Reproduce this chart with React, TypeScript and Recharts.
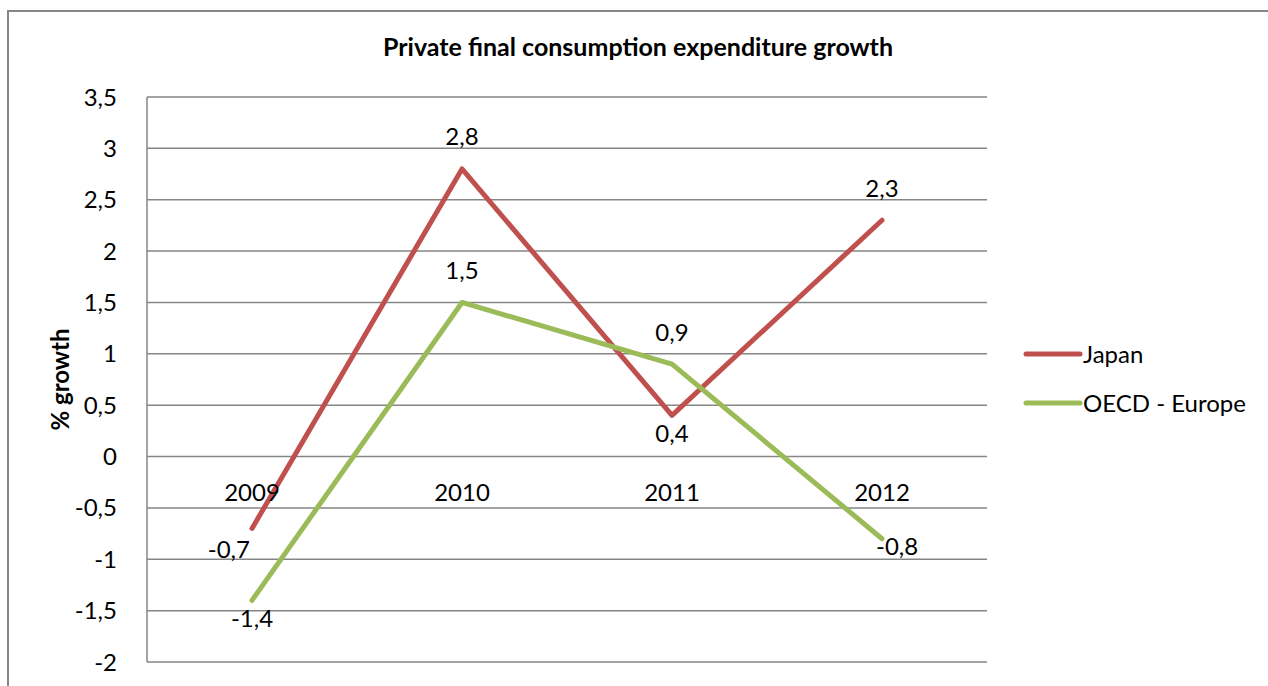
import React from "react";
import {
  LineChart,
  Line,
  XAxis,
  YAxis,
  CartesianGrid,
  Legend,
  LabelList,
} from "recharts";

const years = ["2009", "2010", "2011", "2012"];
const japan = [-0.7, 2.8, 0.4, 2.3];
const oecdEurope = [-1.4, 1.5, 0.9, -0.8];
const yTicks = [-2, -1.5, -1, -0.5, 0, 0.5, 1, 1.5, 2, 2.5, 3, 3.5];

const data = years.map((year, i) => ({
  year,
  japan: japan[i],
  oecd: oecdEurope[i],
}));

const FONT = "Lato, 'Open Sans', sans-serif";
const FS = 24;
const GRID = "#868686";
const RED = "#C0504D";
const GREEN = "#9BBB59";

// plot area in page coordinates
const PLOT_TOP = 97;
const PLOT_BOTTOM = 662;
const PLOT_W = 840;
const Y_MIN = -2;
const Y_MAX = 3.5;
const ZERO_Y =
  PLOT_TOP + ((PLOT_BOTTOM - PLOT_TOP) * (Y_MAX - 0)) / (Y_MAX - Y_MIN);
const HALF_BAND = PLOT_W / years.length / 2;

const fmt = (v: number) => String(v).replace(".", ",");

// where each data label sits relative to its point
const japanPlace = ["left", "above", "below", "above"];
const oecdPlace = ["below", "above", "above", "right"];

const makeLabel = (place: string[]) => (props: any) => {
  const { x, y, value, index } = props;
  const p = place[index];
  let tx = x;
  let ty = y;
  let anchor: "start" | "middle" | "end" = "middle";
  if (p === "above") ty = y - 33;
  if (p === "below") ty = y + 17;
  if (p === "left") {
    tx = x - 2;
    ty = y + 20;
    anchor = "end";
  }
  if (p === "right") {
    tx = x - 6;
    ty = y + 7;
    anchor = "start";
  }
  return (
    <text
      x={tx}
      y={ty}
      textAnchor={anchor}
      dominantBaseline="central"
      fontSize={FS}
      fontFamily={FONT}
      fill="#000"
    >
      {fmt(value)}
    </text>
  );
};

const YearTick = (props: any) => {
  const { x, payload } = props;
  return (
    <text
      x={x}
      y={ZERO_Y + 35}
      textAnchor="middle"
      dominantBaseline="central"
      fontSize={FS}
      fontFamily={FONT}
      fill="#000"
    >
      {payload.value}
    </text>
  );
};

const LegendBox = (props: any) => {
  const { payload } = props;
  return (
    <div style={{ fontFamily: FONT, fontSize: FS, color: "#000" }}>
      {payload.map((item: any) => (
        <div
          key={item.value}
          style={{ display: "flex", alignItems: "center", height: 49 }}
        >
          <svg width={60} height={10}>
            <line
              x1={3}
              y1={5}
              x2={57}
              y2={5}
              stroke={item.color}
              strokeWidth={5}
              strokeLinecap="round"
            />
          </svg>
          <span>{item.value}</span>
        </div>
      ))}
    </div>
  );
};

const App: React.FC = () => {
  return (
    <div
      style={{
        position: "absolute",
        left: 0,
        top: 0,
        width: 1268,
        height: 686,
        background: "#fff",
        overflow: "hidden",
      }}
    >
      <div
        style={{
          position: "absolute",
          left: 7,
          top: 10,
          width: 1300,
          height: 700,
          borderLeft: `2px solid ${GRID}`,
          borderTop: `2px solid ${GRID}`,
        }}
      />
      <div
        style={{
          position: "absolute",
          left: 0,
          top: 31,
          width: 1276,
          textAlign: "center",
          fontFamily: FONT,
          fontWeight: 700,
          fontSize: 25,
          color: "#000",
        }}
      >
        Private final consumption expenditure growth
      </div>
      <div style={{ position: "absolute", left: 0, top: 0 }}>
        <LineChart
          width={1268}
          height={686}
          data={data}
          margin={{ top: PLOT_TOP, right: 281, bottom: 0, left: 0 }}
        >
          <CartesianGrid vertical={false} stroke={GRID} strokeWidth={1.5} />
          <XAxis
            dataKey="year"
            axisLine={false}
            tickLine={false}
            height={686 - PLOT_BOTTOM}
            padding={{ left: HALF_BAND, right: HALF_BAND }}
            tick={<YearTick />}
            interval={0}
          />
          <YAxis
            width={147}
            domain={[Y_MIN, Y_MAX]}
            ticks={yTicks}
            interval={0}
            tickFormatter={fmt}
            axisLine={{ stroke: GRID, strokeWidth: 1.5 }}
            tickLine={false}
            tickMargin={24}
            tick={{ fontSize: FS, fontFamily: FONT, fill: "#000" }}
            label={{
              content: () => (
                <text
                  x={59}
                  y={(PLOT_TOP + PLOT_BOTTOM) / 2}
                  transform={`rotate(-90 59 ${(PLOT_TOP + PLOT_BOTTOM) / 2})`}
                  textAnchor="middle"
                  dominantBaseline="central"
                  fontSize={FS}
                  fontWeight={700}
                  fontFamily={FONT}
                  fill="#000"
                >
                  % growth
                </text>
              ),
            }}
          />
          <Legend
            layout="vertical"
            align="center"
            verticalAlign="middle"
            content={<LegendBox />}
            wrapperStyle={{ position: "absolute", left: 1023, top: 329, width: 245 }}
          />
          <Line
            name="Japan"
            dataKey="japan"
            stroke={RED}
            strokeWidth={5}
            dot={false}
            strokeLinecap="round"
            strokeLinejoin="round"
            isAnimationActive={false}
          >
            <LabelList dataKey="japan" content={makeLabel(japanPlace)} />
          </Line>
          <Line
            name="OECD - Europe"
            dataKey="oecd"
            stroke={GREEN}
            strokeWidth={5}
            dot={false}
            strokeLinecap="round"
            strokeLinejoin="round"
            isAnimationActive={false}
          >
            <LabelList dataKey="oecd" content={makeLabel(oecdPlace)} />
          </Line>
        </LineChart>
      </div>
    </div>
  );
};

export default App;
